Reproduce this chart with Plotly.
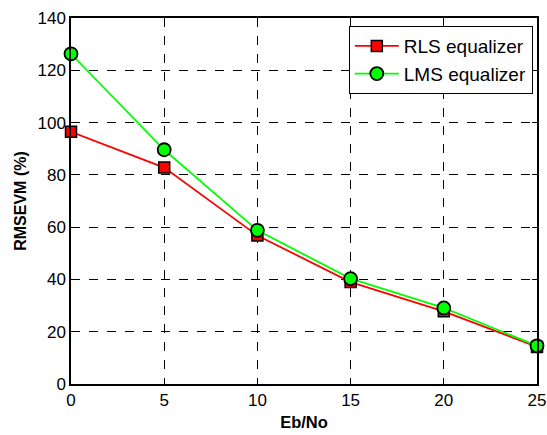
import plotly.graph_objects as go

eb_no = [0, 5, 10, 15, 20, 25]
rls = [96.5, 82.8, 56.8, 39.0, 27.8, 14.2]
lms = [126.3, 89.6, 58.8, 40.3, 29.1, 14.6]

FONT = "Liberation Sans, Arial, sans-serif"

fig = go.Figure()
fig.add_trace(go.Scatter(x=eb_no, y=rls, mode="lines+markers", name="RLS equalizer",
                         line=dict(color="#ff0000", width=1.8),
                         marker=dict(symbol="square", size=11, color="#ff0000",
                                     line=dict(color="black", width=1.5)),
                         cliponaxis=False))
fig.add_trace(go.Scatter(x=eb_no, y=lms, mode="lines+markers", name="LMS equalizer",
                         line=dict(color="#00ff00", width=1.8),
                         marker=dict(symbol="circle", size=13, color="#00ff00",
                                     line=dict(color="black", width=1.8)),
                         cliponaxis=False))

axis_common = dict(showline=True, linecolor="black", linewidth=1.5, mirror="ticks",
                   ticks="inside", ticklen=5, tickcolor="black", automargin=False,
                   showgrid=True, gridcolor="black", griddash="dash", gridwidth=1,
                   zeroline=False, tickfont=dict(family=FONT, size=17, color="black"))

fig.update_layout(
    width=547, height=435,
    margin=dict(l=71, r=10, t=17.5, b=50.5, autoexpand=False),
    paper_bgcolor="white", plot_bgcolor="white",
    xaxis=dict(range=[0, 25], tickvals=[0, 5, 10, 15, 20, 25],
               title=dict(text="<b>Eb/No</b>", font=dict(family=FONT, size=16.5, color="black"), standoff=7),
               **axis_common),
    yaxis=dict(range=[0, 140], tickvals=[0, 20, 40, 60, 80, 100, 120, 140],
               title=dict(text="<b>RMSEVM (%)</b>", font=dict(family=FONT, size=16, color="black"), standoff=7),
               **axis_common),
    legend=dict(x=0.991, y=0.978, xanchor="right", yanchor="top",
                bordercolor="black", borderwidth=1, bgcolor="white",
                font=dict(family=FONT, size=19, color="black"),
                tracegroupgap=0, itemwidth=44),
    showlegend=True,
)

fig.write_html("out.html", config={"displayModeBar": False},
               post_script="document.body.style.margin='0';document.body.style.overflow='hidden';")
